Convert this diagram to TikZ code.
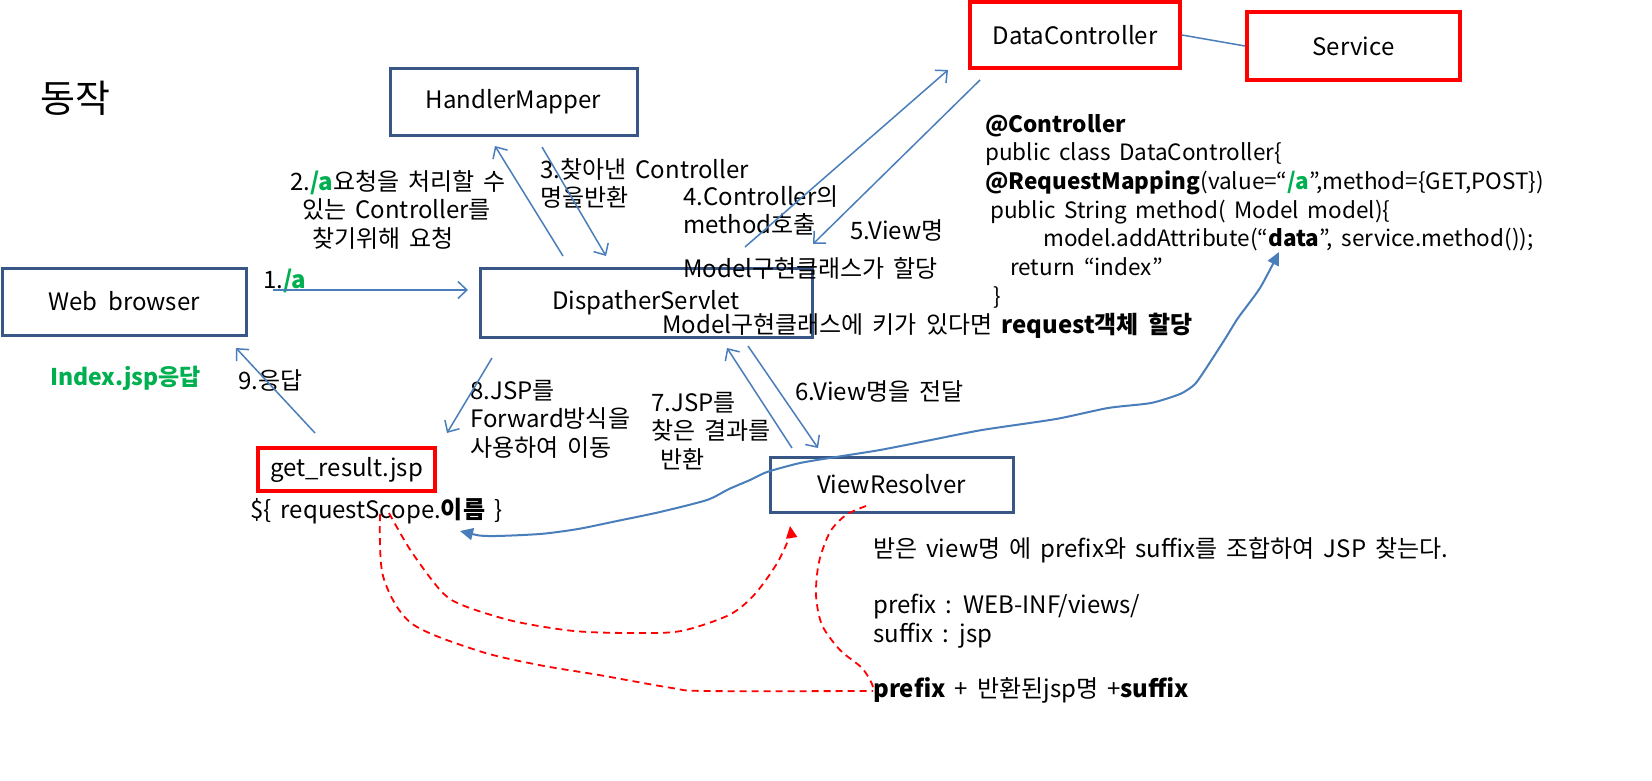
\documentclass[tikz,border=0pt]{standalone}
\usepackage{fontspec}
\setmainfont{Noto Sans CJK KR}[WordSpace=1.7]
\usetikzlibrary{arrows.meta}
\definecolor{boxblue}{RGB}{56,87,135}
\definecolor{lineblue}{RGB}{74,126,187}
\definecolor{okgreen}{RGB}{0,176,80}
\definecolor{redline}{RGB}{255,0,0}
\newcommand{\gr}[1]{\textcolor{okgreen}{\textbf{#1}}}
\begin{document}
\begin{tikzpicture}[x=1pt,y=-1pt,
  bluebox/.style={draw=boxblue,line width=3pt,inner sep=0pt,font=\fontsize{24}{28.5}\selectfont},
  redbox/.style={draw=redline,line width=4pt,inner sep=0pt,font=\fontsize{24}{28.5}\selectfont},
  txt/.style={inner sep=0pt,font=\fontsize{24}{28.5}\selectfont,align=left},
  codetxt/.style={inner sep=0pt,font=\fontsize{22.5}{28.7}\selectfont,align=left},
  conn/.style={draw=lineblue,line width=1.5pt,-{Straight Barb[length=9pt,width=17pt,line width=1.5pt]}},
  flow/.style={draw=lineblue,line width=2pt,{Triangle[length=13pt,width=12pt]}-{Triangle[length=13pt,width=12pt]}},
  reddash/.style={draw=redline,line width=1.8pt,dash pattern=on 7pt off 5pt},
]
\useasboundingbox (0,0) rectangle (1652,780);
\fill[white] (0,0) rectangle (1652,780);

% boxes
\node[txt,font=\fontsize{38}{42}\selectfont,anchor=west] (title) at (40,98) {동작};
\node[bluebox,minimum width=247pt,minimum height=67pt] (hm) at (513.5,101.5) {HandlerMapper};
\node[redbox,minimum width=210pt,minimum height=66pt] (dc) at (1075,35) {DataController};
\node[redbox,minimum width=213pt,minimum height=68pt] (sv) at (1353.5,46) {Service};
\node[bluebox,minimum width=244pt,minimum height=67pt] (wb) at (124,301.5) {Web\hspace{0.45em}browser};
\node[bluebox,minimum width=332pt,minimum height=69pt] (ds) at (646,302.5) {DispatherServlet};
\node[redbox,minimum width=177pt,minimum height=43pt] (jsp) at (346.5,469.5) {get\_result.jsp};
\node[bluebox,minimum width=243pt,minimum height=55pt] (vr) at (891.5,484.5) {ViewResolver};

% texts
\node[txt,anchor=west] (l1) at (263,281) {1.\gr{/a}};
\node[txt,anchor=north west] (l2) at (290,170) {2.\gr{/a}요청을 처리할 수\\\hspace*{12pt}있는 Controller를\\\hspace*{22pt}찾기위해 요청};
\node[txt,anchor=north west] (l3) at (540,158) {3.찾아낸 Controller\\명을반환};
\node[txt,anchor=north west] (l4) at (683,185) {4.Controller의\\method호출};
\node[txt,anchor=west] (l5) at (850,230) {5.View명};
\node[txt,anchor=west] (m1) at (683,268) {Model구현클래스가 할당};
\node[txt,anchor=west] (m2) at (662,326) {Model구현클래스에 키가 있다면 \textbf{request객체 할당}};
\node[codetxt,anchor=north west] (code) at (985,114) {\textbf{@Controller}\\public class DataController\{\\\textbf{@RequestMapping}(value=“\gr{/a}”,method=\{GET,POST\})\\\hspace*{5pt}public String method( Model model)\{\\\hspace*{58pt}model.addAttribute(“\textbf{data}”, service.method());\\\hspace*{25pt}return “index”\\\hspace*{8pt}\}};
\node[txt,anchor=west,text=okgreen,font=\fontsize{23}{28.5}\selectfont\bfseries] (idx) at (50,378) {Index.jsp응답};
\node[txt,anchor=west] (l9) at (238,381) {9.응답};
\node[txt,anchor=north west] (l8) at (470,380) {8.JSP를\\Forward방식을\\사용하여 이동};
\node[txt,anchor=north west] (l7) at (651,392) {7.JSP를\\찾은 결과를\\\hspace*{9pt}반환};
\node[txt,anchor=west] (l6) at (795,391) {6.View명을 전달};
\node[txt,anchor=west] (el) at (250,511) {\$\{ requestScope.\textbf{이름} \}};
\node[txt,anchor=west] (vr1) at (873,550) {받은 view명 에 prefix와 suffix를 조합하여 JSP 찾는다.};
\node[txt,anchor=north west] (vr2) at (873,594) {prefix : WEB-INF/views/\\suffix : jsp};
\node[txt,anchor=west] (vr3) at (873,690) {\textbf{prefix} + 반환된jsp명 +\textbf{suffix}};

% connector end points
\coordinate (a1s) at (273,290); \coordinate (a1e) at (468,290);
\coordinate (a2s) at (563,256); \coordinate (a2e) at (495,146);
\coordinate (a3s) at (542,147); \coordinate (a3e) at (606,256);
\coordinate (a4s) at (745,247); \coordinate (a4e) at (948,70);
\coordinate (a5s) at (980,80);  \coordinate (a5e) at (813,244);
\coordinate (a6s) at (748,346); \coordinate (a6e) at (818,448);
\coordinate (a7s) at (792,448); \coordinate (a7e) at (727,348);
\coordinate (a8s) at (492,358); \coordinate (a8e) at (447,433);
\coordinate (a9s) at (315,433); \coordinate (a9e) at (236,348);

\draw[draw=lineblue,line width=1.5pt] (dc.east) -- (sv.west);
\draw[conn] (a1s) -- (a1e);
\draw[conn] (a2s) -- (a2e);
\draw[conn] (a3s) -- (a3e);
\draw[conn] (a4s) -- (a4e);
\draw[conn] (a5s) -- (a5e);
\draw[conn] (a6s) -- (a6e);
\draw[conn] (a7s) -- (a7e);
\draw[conn] (a8s) -- (a8e);
\draw[conn] (a9s) -- (a9e);

% blue freeform double arrow
\coordinate (fs) at (460,531);
\coordinate (fe) at (1279,252);
\draw[flow] plot[smooth,tension=0.4] coordinates {(fs) (488,536) (540,534) (578,529) (617,521) (660,512) (707,500) (729,489) (750,480) (767,472) (800,463) (836,457) (880,450) (926,441) (982,430) (1056,419) (1108,408) (1151,403) (1180,394) (1194,385) (1203,373) (1225,339) (1238,318) (1260,288) (fe)};

% red dashed curves
\coordinate (ri) at (389,513);
\coordinate (rie) at (790,526);
\draw[reddash,-{Triangle[length=12pt,width=11pt]}] plot[smooth,tension=0.5] coordinates {(ri) (411,551) (441,591) (462,605) (513,621) (574,631) (634,633) (681,631) (729,615) (754,595) (776,565) (789,538) (rie)};
\coordinate (ro) at (380,514);
\coordinate (rj) at (873,691);
\draw[reddash] plot[smooth,tension=0.5] coordinates {(ro) (383,576) (411,623) (479,651) (539,665) (599,675) (672,688) (706,691) (rj)};
\coordinate (rv) at (866,506);
\draw[reddash] plot[smooth,tension=0.5] coordinates {(rv) (846,515) (830,532) (819,562) (816,595) (822,625) (840,650) (862,668) (872,684) (rj)};
\end{tikzpicture}
\end{document}
